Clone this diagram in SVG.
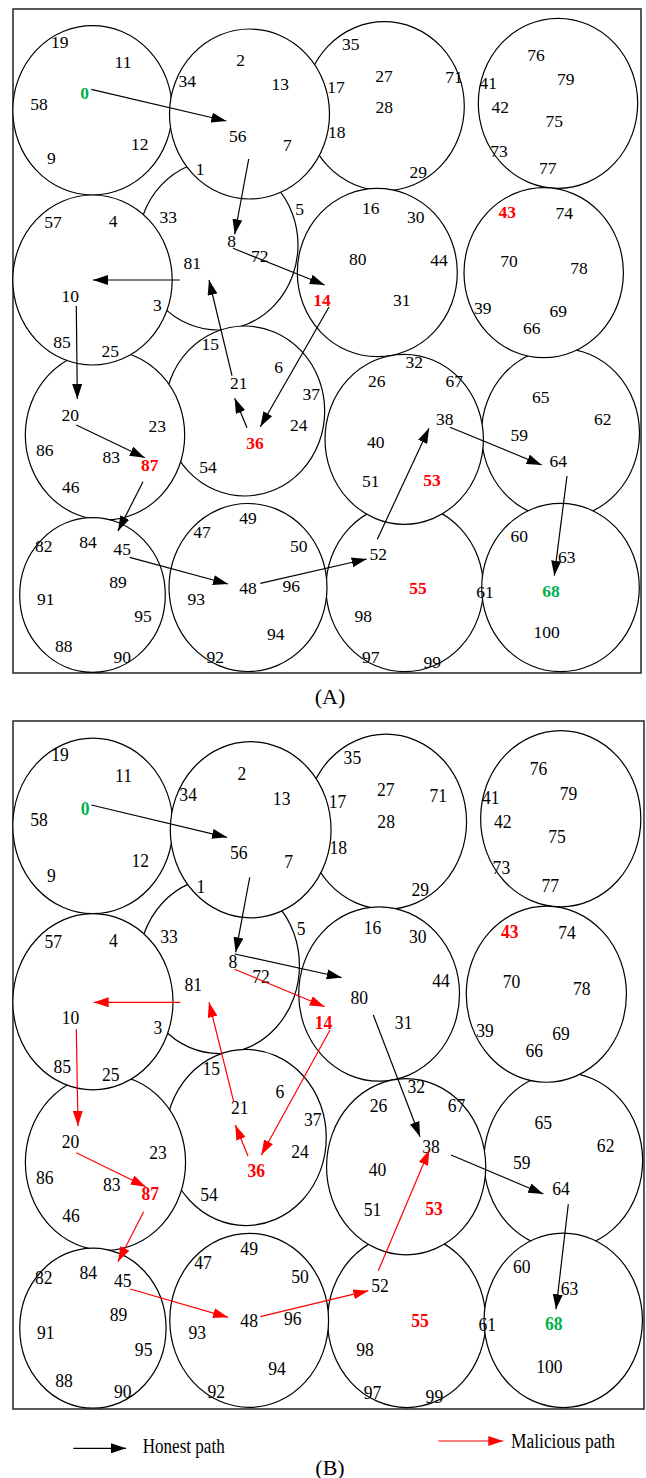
<svg xmlns="http://www.w3.org/2000/svg" width="646" height="1478" viewBox="0 0 646 1478">
<defs>
<style>
.frame{fill:none;stroke:#222;stroke-width:1.5}
.cl{fill:#fff;stroke:#000;stroke-width:1.2}
.lb{font-family:"Liberation Serif","Times New Roman",serif;font-size:17.5px;text-anchor:middle;fill:#000}
.red{fill:#ff0000;font-weight:bold}
.grn{fill:#00b050;font-weight:bold}
.hp{fill:none;stroke:#000;stroke-width:1.2;marker-end:url(#ahk)}
.mp{fill:none;stroke:#ff0000;stroke-width:1.2;marker-end:url(#ahr)}
.cap{font-family:"Liberation Serif","Times New Roman",serif;font-size:22px;text-anchor:middle;fill:#000}
.leg{font-family:"Liberation Serif","Times New Roman",serif;font-size:20px;fill:#000}
</style>
<marker id="ahk" markerUnits="userSpaceOnUse" markerWidth="15" markerHeight="10" refX="15" refY="5" orient="auto"><path d="M0,0 L15,5 L0,10 z" fill="#000"/></marker>
<marker id="ahr" markerUnits="userSpaceOnUse" markerWidth="15" markerHeight="10" refX="15" refY="5" orient="auto"><path d="M0,0 L15,5 L0,10 z" fill="#ff0000"/></marker>
</defs>
<rect width="646" height="1478" fill="#fff"/>

<!-- ================= PANEL A ================= -->
<g id="panelA">
<rect class="frame" x="13" y="9" width="628" height="664"/>
<g id="A-clusters">
<ellipse id="A-c3" class="cl" cx="384.3" cy="106.2" rx="80" ry="84.5"/>
<ellipse id="A-c6" class="cl" cx="218" cy="245" rx="80" ry="85"/>
<ellipse id="A-c10" class="cl" cx="244.7" cy="411" rx="80" ry="85"/>
<ellipse id="A-c9" class="cl" cx="105" cy="435" rx="79.7" ry="85"/>
<ellipse id="A-c15" class="cl" cx="404.7" cy="587.7" rx="78.7" ry="84"/>
<ellipse id="A-c12" class="cl" cx="560.5" cy="433.3" rx="79" ry="85"/>
<ellipse id="A-c1" class="cl" cx="92.5" cy="110.3" rx="79.7" ry="84.7"/>
<ellipse id="A-c2" class="cl" cx="249.5" cy="114" rx="80" ry="85"/>
<ellipse id="A-c4" class="cl" cx="558" cy="103.3" rx="79.7" ry="85"/>
<ellipse id="A-c5" class="cl" cx="92.5" cy="280" rx="79.7" ry="85"/>
<ellipse id="A-c7" class="cl" cx="377.3" cy="272.5" rx="80" ry="84.2"/>
<ellipse id="A-c8" class="cl" cx="543.7" cy="272.7" rx="79.7" ry="85"/>
<ellipse id="A-c11" class="cl" cx="404.2" cy="439.3" rx="79.2" ry="85"/>
<ellipse id="A-c13" class="cl" cx="92.5" cy="595" rx="72.8" ry="77.3"/>
<ellipse id="A-c14" class="cl" cx="248" cy="587.5" rx="79" ry="84"/>
<ellipse id="A-c16" class="cl" cx="560.5" cy="587.5" rx="78.8" ry="84.2"/>
</g>
<g id="A-nodes" class="lb">
<g id="A-n0"><text class="grn" x="84.7" y="99.3">0</text></g>
<g id="A-n1"><text x="200" y="175.3">1</text></g>
<g id="A-n2"><text x="240.7" y="66">2</text></g>
<g id="A-n3"><text x="157.3" y="311">3</text></g>
<g id="A-n4"><text x="113" y="227">4</text></g>
<g id="A-n5"><text x="299.7" y="215.3">5</text></g>
<g id="A-n6"><text x="278.7" y="372.7">6</text></g>
<g id="A-n7"><text x="287.3" y="151">7</text></g>
<g id="A-n8"><text x="231.7" y="247">8</text></g>
<g id="A-n9"><text x="51.3" y="164.3">9</text></g>
<g id="A-n10"><text x="70.3" y="301.7">10</text></g>
<g id="A-n11"><text x="123" y="68.3">11</text></g>
<g id="A-n12"><text x="139.7" y="150">12</text></g>
<g id="A-n13"><text x="280.3" y="90">13</text></g>
<g id="A-n14"><text class="red" x="322" y="306">14</text></g>
<g id="A-n15"><text x="210.3" y="350.3">15</text></g>
<g id="A-n16"><text x="370.7" y="214.3">16</text></g>
<g id="A-n17"><text x="336" y="93.3">17</text></g>
<g id="A-n18"><text x="336.7" y="137.7">18</text></g>
<g id="A-n19"><text x="59.7" y="47.7">19</text></g>
<g id="A-n20"><text x="70.3" y="421">20</text></g>
<g id="A-n21"><text x="238.7" y="388.7">21</text></g>
<g id="A-n23"><text x="157.3" y="431.7">23</text></g>
<g id="A-n24"><text x="298.7" y="431">24</text></g>
<g id="A-n25"><text x="110.3" y="356.7">25</text></g>
<g id="A-n26"><text x="376.7" y="386.7">26</text></g>
<g id="A-n27"><text x="384" y="81.7">27</text></g>
<g id="A-n28"><text x="384.3" y="112.7">28</text></g>
<g id="A-n29"><text x="418.3" y="178.3">29</text></g>
<g id="A-n30"><text x="415.7" y="223.3">30</text></g>
<g id="A-n31"><text x="401.7" y="306">31</text></g>
<g id="A-n32"><text x="414.3" y="367.7">32</text></g>
<g id="A-n33"><text x="168.3" y="223.3">33</text></g>
<g id="A-n34"><text x="187.3" y="86.7">34</text></g>
<g id="A-n35"><text x="350.7" y="50.3">35</text></g>
<g id="A-n36"><text class="red" x="255" y="448.7">36</text></g>
<g id="A-n37"><text x="311.3" y="400.3">37</text></g>
<g id="A-n38"><text x="444.7" y="425">38</text></g>
<g id="A-n39"><text x="482.7" y="313.7">39</text></g>
<g id="A-n40"><text x="375.7" y="448.3">40</text></g>
<g id="A-n41"><text x="488.3" y="89.3">41</text></g>
<g id="A-n42"><text x="500.3" y="112.7">42</text></g>
<g id="A-n43"><text class="red" x="507.3" y="218.3">43</text></g>
<g id="A-n44"><text x="439" y="266">44</text></g>
<g id="A-n45"><text x="122.3" y="555.3">45</text></g>
<g id="A-n46"><text x="70.7" y="492.7">46</text></g>
<g id="A-n47"><text x="202" y="538.3">47</text></g>
<g id="A-n48"><text x="248" y="593.7">48</text></g>
<g id="A-n49"><text x="248" y="524.3">49</text></g>
<g id="A-n50"><text x="298.7" y="551.7">50</text></g>
<g id="A-n51"><text x="370.7" y="486.7">51</text></g>
<g id="A-n52"><text x="378.3" y="560.3">52</text></g>
<g id="A-n53"><text class="red" x="432" y="486">53</text></g>
<g id="A-n54"><text x="208" y="472.7">54</text></g>
<g id="A-n55"><text class="red" x="418" y="593.7">55</text></g>
<g id="A-n56"><text x="237.7" y="142.3">56</text></g>
<g id="A-n57"><text x="53" y="228.3">57</text></g>
<g id="A-n58"><text x="39" y="110.3">58</text></g>
<g id="A-n59"><text x="519.3" y="441">59</text></g>
<g id="A-n60"><text x="519.3" y="541.7">60</text></g>
<g id="A-n61"><text x="485" y="597.7">61</text></g>
<g id="A-n62"><text x="602.7" y="425">62</text></g>
<g id="A-n63"><text x="566.7" y="563.3">63</text></g>
<g id="A-n64"><text x="558.3" y="466.7">64</text></g>
<g id="A-n65"><text x="540.7" y="403.3">65</text></g>
<g id="A-n66"><text x="531.7" y="333.7">66</text></g>
<g id="A-n67"><text x="454.3" y="386.7">67</text></g>
<g id="A-n68"><text class="grn" x="551" y="597">68</text></g>
<g id="A-n69"><text x="558.3" y="317">69</text></g>
<g id="A-n70"><text x="509" y="266.7">70</text></g>
<g id="A-n71"><text x="454" y="83.3">71</text></g>
<g id="A-n72"><text x="259.7" y="261.7">72</text></g>
<g id="A-n73"><text x="499" y="156.7">73</text></g>
<g id="A-n74"><text x="564.3" y="219.3">74</text></g>
<g id="A-n75"><text x="554.3" y="127">75</text></g>
<g id="A-n76"><text x="536" y="61">76</text></g>
<g id="A-n77"><text x="547.7" y="173.7">77</text></g>
<g id="A-n78"><text x="579" y="273.7">78</text></g>
<g id="A-n79"><text x="565.7" y="85">79</text></g>
<g id="A-n80"><text x="357.7" y="265">80</text></g>
<g id="A-n81"><text x="192.3" y="269.3">81</text></g>
<g id="A-n82"><text x="43.7" y="552">82</text></g>
<g id="A-n83"><text x="111.3" y="462.7">83</text></g>
<g id="A-n84"><text x="88" y="547.7">84</text></g>
<g id="A-n85"><text x="62" y="348.3">85</text></g>
<g id="A-n86"><text x="44.7" y="456">86</text></g>
<g id="A-n87"><text class="red" x="149.7" y="471">87</text></g>
<g id="A-n88"><text x="63.7" y="652">88</text></g>
<g id="A-n89"><text x="118" y="587.7">89</text></g>
<g id="A-n90"><text x="122.3" y="662.7">90</text></g>
<g id="A-n91"><text x="45.7" y="605.3">91</text></g>
<g id="A-n92"><text x="215.3" y="662.7">92</text></g>
<g id="A-n93"><text x="196.3" y="605.3">93</text></g>
<g id="A-n94"><text x="275.7" y="640.3">94</text></g>
<g id="A-n95"><text x="143" y="622">95</text></g>
<g id="A-n96"><text x="291.3" y="591.7">96</text></g>
<g id="A-n97"><text x="370.7" y="663.3">97</text></g>
<g id="A-n98"><text x="363.3" y="621.7">98</text></g>
<g id="A-n99"><text x="432.3" y="667.7">99</text></g>
<g id="A-n100"><text x="546.7" y="638.3">100</text></g>
</g>
<g id="A-connectors">
<line class="hp" x1="91.3" y1="89.3" x2="226.3" y2="121"/>
<line class="hp" x1="248.7" y1="159" x2="234.7" y2="234.3"/>
<line class="hp" x1="233" y1="248.3" x2="324.7" y2="285"/>
<line class="hp" x1="329" y1="307" x2="260.3" y2="426.7"/>
<line class="hp" x1="247" y1="427.7" x2="234.7" y2="398.3"/>
<line class="hp" x1="232" y1="375.7" x2="209" y2="280"/>
<line class="hp" x1="179.7" y1="280" x2="93" y2="280"/>
<line class="hp" x1="76.3" y1="306" x2="77.3" y2="399"/>
<line class="hp" x1="76.3" y1="425" x2="144.7" y2="457.7"/>
<line class="hp" x1="143" y1="481.7" x2="118" y2="531"/>
<line class="hp" x1="129.7" y1="557.3" x2="228" y2="584"/>
<line class="hp" x1="260.3" y1="583.3" x2="366.7" y2="559"/>
<line class="hp" x1="377.3" y1="539.3" x2="429" y2="428.3"/>
<line class="hp" x1="450" y1="427.3" x2="541.7" y2="465"/>
<line class="hp" x1="567" y1="476" x2="554.3" y2="575.7"/>
</g>
<text class="cap" x="330" y="704">(A)</text>
</g>

<!-- ================= PANEL B ================= -->
<g id="panelB">
<rect class="frame" x="13" y="721" width="631" height="688"/>
<g id="B-body" transform="matrix(1.005 0 0 1.036 -0.065 711.676)">
<g id="B-clusters">
<ellipse id="B-c3" class="cl" cx="384.3" cy="106.2" rx="80" ry="84.5"/>
<ellipse id="B-c6" class="cl" cx="218" cy="245" rx="80" ry="85"/>
<ellipse id="B-c10" class="cl" cx="244.7" cy="411" rx="80" ry="85"/>
<ellipse id="B-c9" class="cl" cx="105" cy="435" rx="79.7" ry="85"/>
<ellipse id="B-c15" class="cl" cx="404.7" cy="587.7" rx="78.7" ry="84"/>
<ellipse id="B-c12" class="cl" cx="560.5" cy="433.3" rx="79" ry="85"/>
<ellipse id="B-c1" class="cl" cx="92.5" cy="110.3" rx="79.7" ry="84.7"/>
<ellipse id="B-c2" class="cl" cx="249.5" cy="114" rx="80" ry="85"/>
<ellipse id="B-c4" class="cl" cx="558" cy="103.3" rx="79.7" ry="85"/>
<ellipse id="B-c5" class="cl" cx="92.5" cy="280" rx="79.7" ry="85"/>
<ellipse id="B-c7" class="cl" cx="377.3" cy="272.5" rx="80" ry="84.2"/>
<ellipse id="B-c8" class="cl" cx="543.7" cy="272.7" rx="79.7" ry="85"/>
<ellipse id="B-c11" class="cl" cx="404.2" cy="439.3" rx="79.2" ry="85"/>
<ellipse id="B-c13" class="cl" cx="92.5" cy="595" rx="72.8" ry="77.3"/>
<ellipse id="B-c14" class="cl" cx="248" cy="587.5" rx="79" ry="84"/>
<ellipse id="B-c16" class="cl" cx="560.5" cy="587.5" rx="78.8" ry="84.2"/>
</g>
<g id="B-nodes" class="lb">
<g id="B-n0"><text class="grn" x="84.7" y="99.3">0</text></g>
<g id="B-n1"><text x="200" y="175.3">1</text></g>
<g id="B-n2"><text x="240.7" y="66">2</text></g>
<g id="B-n3"><text x="157.3" y="311">3</text></g>
<g id="B-n4"><text x="113" y="227">4</text></g>
<g id="B-n5"><text x="299.7" y="215.3">5</text></g>
<g id="B-n6"><text x="278.7" y="372.7">6</text></g>
<g id="B-n7"><text x="287.3" y="151">7</text></g>
<g id="B-n8"><text x="231.7" y="247">8</text></g>
<g id="B-n9"><text x="51.3" y="164.3">9</text></g>
<g id="B-n10"><text x="70.3" y="301.7">10</text></g>
<g id="B-n11"><text x="123" y="68.3">11</text></g>
<g id="B-n12"><text x="139.7" y="150">12</text></g>
<g id="B-n13"><text x="280.3" y="90">13</text></g>
<g id="B-n14"><text class="red" x="322" y="306">14</text></g>
<g id="B-n15"><text x="210.3" y="350.3">15</text></g>
<g id="B-n16"><text x="370.7" y="214.3">16</text></g>
<g id="B-n17"><text x="336" y="93.3">17</text></g>
<g id="B-n18"><text x="336.7" y="137.7">18</text></g>
<g id="B-n19"><text x="59.7" y="47.7">19</text></g>
<g id="B-n20"><text x="70.3" y="421">20</text></g>
<g id="B-n21"><text x="238.7" y="388.7">21</text></g>
<g id="B-n23"><text x="157.3" y="431.7">23</text></g>
<g id="B-n24"><text x="298.7" y="431">24</text></g>
<g id="B-n25"><text x="110.3" y="356.7">25</text></g>
<g id="B-n26"><text x="376.7" y="386.7">26</text></g>
<g id="B-n27"><text x="384" y="81.7">27</text></g>
<g id="B-n28"><text x="384.3" y="112.7">28</text></g>
<g id="B-n29"><text x="418.3" y="178.3">29</text></g>
<g id="B-n30"><text x="415.7" y="223.3">30</text></g>
<g id="B-n31"><text x="401.7" y="306">31</text></g>
<g id="B-n32"><text x="414.3" y="367.7">32</text></g>
<g id="B-n33"><text x="168.3" y="223.3">33</text></g>
<g id="B-n34"><text x="187.3" y="86.7">34</text></g>
<g id="B-n35"><text x="350.7" y="50.3">35</text></g>
<g id="B-n36"><text class="red" x="255" y="448.7">36</text></g>
<g id="B-n37"><text x="311.3" y="400.3">37</text></g>
<g id="B-n38"><text x="428.9" y="425.9">38</text></g>
<g id="B-n39"><text x="482.7" y="313.7">39</text></g>
<g id="B-n40"><text x="375.7" y="448.3">40</text></g>
<g id="B-n41"><text x="488.3" y="89.3">41</text></g>
<g id="B-n42"><text x="500.3" y="112.7">42</text></g>
<g id="B-n43"><text class="red" x="507.3" y="218.3">43</text></g>
<g id="B-n44"><text x="439" y="266">44</text></g>
<g id="B-n45"><text x="122.3" y="555.3">45</text></g>
<g id="B-n46"><text x="70.7" y="492.7">46</text></g>
<g id="B-n47"><text x="202" y="538.3">47</text></g>
<g id="B-n48"><text x="248" y="593.7">48</text></g>
<g id="B-n49"><text x="248" y="524.3">49</text></g>
<g id="B-n50"><text x="298.7" y="551.7">50</text></g>
<g id="B-n51"><text x="370.7" y="486.7">51</text></g>
<g id="B-n52"><text x="378.3" y="560.3">52</text></g>
<g id="B-n53"><text class="red" x="432" y="486">53</text></g>
<g id="B-n54"><text x="208" y="472.7">54</text></g>
<g id="B-n55"><text class="red" x="418" y="593.7">55</text></g>
<g id="B-n56"><text x="237.7" y="142.3">56</text></g>
<g id="B-n57"><text x="53" y="228.3">57</text></g>
<g id="B-n58"><text x="39" y="110.3">58</text></g>
<g id="B-n59"><text x="519.3" y="441">59</text></g>
<g id="B-n60"><text x="519.3" y="541.7">60</text></g>
<g id="B-n61"><text x="485" y="597.7">61</text></g>
<g id="B-n62"><text x="602.7" y="425">62</text></g>
<g id="B-n63"><text x="566.7" y="563.3">63</text></g>
<g id="B-n64"><text x="558.3" y="466.7">64</text></g>
<g id="B-n65"><text x="540.7" y="403.3">65</text></g>
<g id="B-n66"><text x="531.7" y="333.7">66</text></g>
<g id="B-n67"><text x="454.3" y="386.7">67</text></g>
<g id="B-n68"><text class="grn" x="551" y="597">68</text></g>
<g id="B-n69"><text x="558.3" y="317">69</text></g>
<g id="B-n70"><text x="509" y="266.7">70</text></g>
<g id="B-n71"><text x="436.2" y="87.4">71</text></g>
<g id="B-n72"><text x="259.7" y="261.7">72</text></g>
<g id="B-n73"><text x="499" y="156.7">73</text></g>
<g id="B-n74"><text x="564.3" y="219.3">74</text></g>
<g id="B-n75"><text x="554.3" y="127">75</text></g>
<g id="B-n76"><text x="536" y="61">76</text></g>
<g id="B-n77"><text x="547.7" y="173.7">77</text></g>
<g id="B-n78"><text x="579" y="273.7">78</text></g>
<g id="B-n79"><text x="565.7" y="85">79</text></g>
<g id="B-n80"><text x="357.6" y="282.1">80</text></g>
<g id="B-n81"><text x="192.3" y="269.3">81</text></g>
<g id="B-n82"><text x="43.7" y="552">82</text></g>
<g id="B-n83"><text x="111.3" y="462.7">83</text></g>
<g id="B-n84"><text x="88" y="547.7">84</text></g>
<g id="B-n85"><text x="62" y="348.3">85</text></g>
<g id="B-n86"><text x="44.7" y="456">86</text></g>
<g id="B-n87"><text class="red" x="149.7" y="471">87</text></g>
<g id="B-n88"><text x="63.7" y="652">88</text></g>
<g id="B-n89"><text x="118" y="587.7">89</text></g>
<g id="B-n90"><text x="122.3" y="662.7">90</text></g>
<g id="B-n91"><text x="45.7" y="605.3">91</text></g>
<g id="B-n92"><text x="215.3" y="662.7">92</text></g>
<g id="B-n93"><text x="196.3" y="605.3">93</text></g>
<g id="B-n94"><text x="275.7" y="640.3">94</text></g>
<g id="B-n95"><text x="143" y="622">95</text></g>
<g id="B-n96"><text x="291.3" y="591.7">96</text></g>
<g id="B-n97"><text x="370.7" y="663.3">97</text></g>
<g id="B-n98"><text x="363.3" y="621.7">98</text></g>
<g id="B-n99"><text x="432.3" y="667.7">99</text></g>
<g id="B-n100"><text x="546.7" y="638.3">100</text></g>
</g>
</g>
<g id="B-connectors">
<line class="hp" x1="91.3" y1="805" x2="227" y2="837.3"/>
<line class="hp" x1="249.7" y1="877.3" x2="235.7" y2="952.3"/>
<line class="hp" x1="234.7" y1="954" x2="341.7" y2="977.5"/>
<line class="hp" x1="373.3" y1="1015" x2="420" y2="1136.7"/>
<line class="hp" x1="451" y1="1155" x2="543.3" y2="1194"/>
<line class="hp" x1="568.3" y1="1204.3" x2="556" y2="1309.3"/>
<line class="mp" x1="234.7" y1="969.3" x2="324.7" y2="1006.7"/>
<line class="mp" x1="330" y1="1030" x2="261.3" y2="1155"/>
<line class="mp" x1="248" y1="1156" x2="235.3" y2="1125"/>
<line class="mp" x1="233.7" y1="1101.7" x2="209" y2="1002.3"/>
<line class="mp" x1="180.3" y1="1002.3" x2="93.7" y2="1002.3"/>
<line class="mp" x1="76.3" y1="1029.3" x2="78" y2="1126"/>
<line class="mp" x1="76.3" y1="1152.7" x2="145.7" y2="1186.7"/>
<line class="mp" x1="143.7" y1="1211.7" x2="118" y2="1261.7"/>
<line class="mp" x1="130.3" y1="1289" x2="228" y2="1317.3"/>
<line class="mp" x1="260.3" y1="1316.7" x2="368.3" y2="1290.7"/>
<line class="mp" x1="378.3" y1="1270.7" x2="429.3" y2="1150"/>
</g>
</g>

<g id="legend">
<line class="hp" x1="73.3" y1="1448.3" x2="126" y2="1448.3"/>
<text class="leg" x="142.7" y="1452.7" textLength="82" lengthAdjust="spacingAndGlyphs">Honest path</text>
<line class="mp" x1="438.3" y1="1441" x2="503.3" y2="1441"/>
<text class="leg" x="511" y="1448.3" textLength="104" lengthAdjust="spacingAndGlyphs">Malicious path</text>
</g>
<text class="cap" x="330" y="1475">(B)</text>
</svg>
